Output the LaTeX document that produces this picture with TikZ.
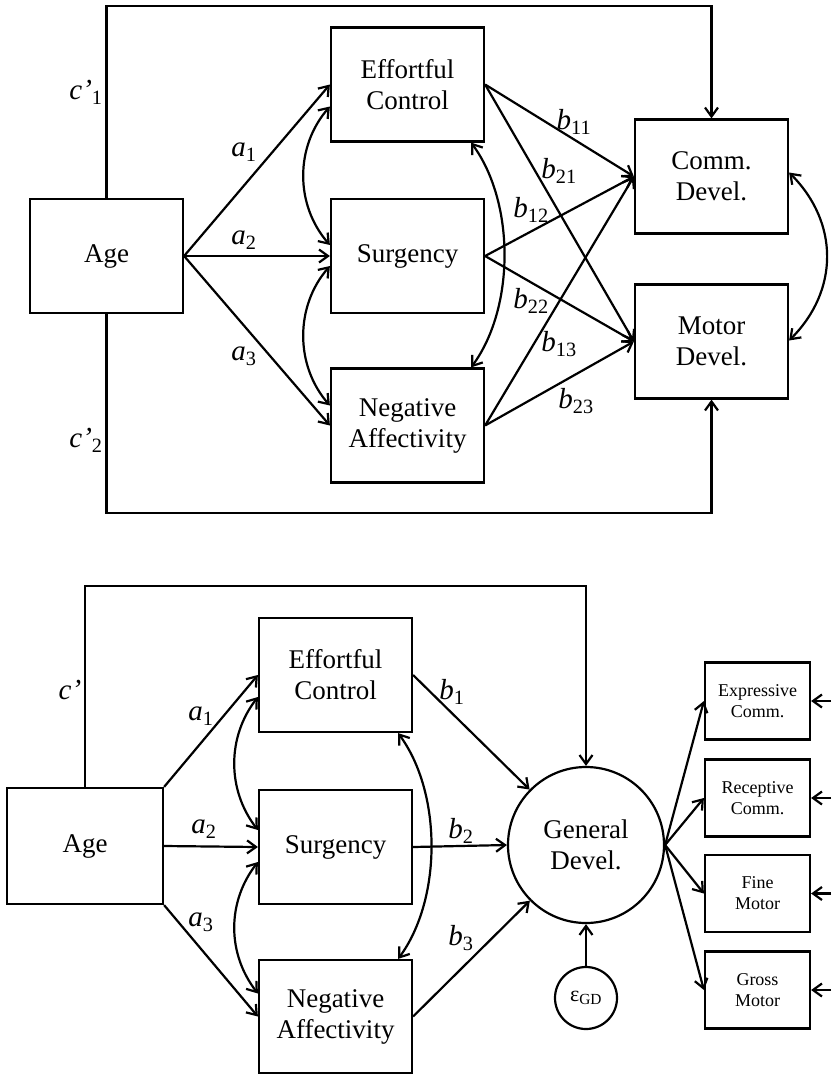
\documentclass[tikz,border=0pt]{standalone}
\usepackage{fontspec}
\setmainfont{Liberation Serif}
\usetikzlibrary{arrows.meta}
\tikzstyle{block} = [rectangle, draw, line width=2.2pt, minimum width=153pt,
    minimum height=114pt, align=center, font=\fontsize{27}{31}\selectfont]
\tikzstyle{indicator} = [rectangle, draw, line width=2.2pt, minimum width=105pt,
    minimum height=77pt, align=center, font=\fontsize{18}{21}\selectfont]
\tikzstyle{latent} = [circle, draw, line width=2.2pt, align=center, inner sep=0pt]
\tikzstyle{coef} = [inner sep=0pt, font=\fontsize{29}{32}\selectfont\itshape]
\newcommand{\pathlab}[2]{#1\textsubscript{\upshape #2}}

\begin{document}
\begin{tikzpicture}[x=1pt,y=-1pt,line width=2.2pt,
                    >={Straight Barb[length=9pt,width=13pt]}]
  \useasboundingbox (0,0) rectangle (831,1074);

  % top model
  \node[block] (age)   at (106.5,256)   {Age};
  \node[block] (ec)    at (407.5,84.5)  {Effortful\\Control};
  \node[block] (sur)   at (407.5,256)   {Surgency};
  \node[block] (na)    at (407.5,425.5) {Negative\\Affectivity};
  \node[block] (comm)  at (711.5,176.5) {Comm.\\Devel.};
  \node[block] (motor) at (711.5,341.5) {Motor\\Devel.};

  \coordinate (topc) at (106.5,6);
  \coordinate (botc) at (106.5,513);
  \draw[->] (age.north) -- (topc) -| (comm.north);
  \draw[->] (age.south) -- (botc) -| (motor.south);

  \draw[->] (age.east) -- (ec.west);
  \draw[->] (age.east) -- (sur.west);
  \draw[->] (age.east) -- (na.west);

  \draw[<->] ([yshift=-22pt]ec.west) .. controls +(-35,40) and +(-35,-40) .. ([yshift=11pt]sur.west);
  \draw[<->] ([yshift=-10pt]sur.west) .. controls +(-35,40) and +(-35,-40) .. ([yshift=20pt]na.west);
  \draw[<->] ([xshift=-14pt]ec.south east) .. controls +(44,60) and +(44,-60) .. ([xshift=-14pt]na.north east);
  \draw[<->] ([yshift=4pt]comm.east) .. controls +(50,50) and +(50,-50) .. ([yshift=1pt]motor.east);

  \draw[->] (ec.east)  -- (comm.west);
  \draw[->] (ec.east)  -- (motor.west);
  \draw[->] (sur.east) -- (comm.west);
  \draw[->] (sur.east) -- (motor.west);
  \draw[->] (na.east)  -- (comm.west);
  \draw[->] (na.east)  -- (motor.west);

  \node[coef] (c1)  at (86,92)   {\pathlab{c’}{1}};
  \node[coef] (c2)  at (86,440)  {\pathlab{c’}{2}};
  \node[coef] (a1)  at (244,152) {\pathlab{a}{1}};
  \node[coef] (a2)  at (244,240) {\pathlab{a}{2}};
  \node[coef] (a3)  at (244,356) {\pathlab{a}{3}};
  \node[coef] (b11) at (574,122) {\pathlab{b}{11}};
  \node[coef] (b21) at (559,171) {\pathlab{b}{21}};
  \node[coef] (b12) at (531,210) {\pathlab{b}{12}};
  \node[coef] (b22) at (531,301) {\pathlab{b}{22}};
  \node[coef] (b13) at (559,344) {\pathlab{b}{13}};
  \node[coef] (b23) at (576,401) {\pathlab{b}{23}};

  % bottom model
  \node[block, minimum width=156pt, minimum height=116pt] (age2) at (85,846) {Age};
  \node[block] (ec2)  at (335.5,675)    {Effortful\\Control};
  \node[block] (sur2) at (335.5,847)    {Surgency};
  \node[block, minimum height=113pt] (na2) at (335.5,1016.5) {Negative\\Affectivity};
  \node[latent, minimum size=156pt, font=\fontsize{27}{31}\selectfont] (gd) at (586,845) {General\\Devel.};
  \node[latent, minimum size=62pt, font=\fontsize{22}{26}\selectfont] (eps) at (586,998) {ε\textsubscript{GD}};

  \node[indicator] (expr)  at (757.5,701)   {Expressive\\Comm.};
  \node[indicator] (recp)  at (757.5,798)   {Receptive\\Comm.};
  \node[indicator] (fine)  at (757.5,893.5) {Fine\\Motor};
  \node[indicator] (gross) at (757.5,990)   {Gross\\Motor};

  \coordinate (topc2) at (85,586);
  \draw[->] (age2.north) -- (topc2) -| (gd.north);

  \draw[->] (age2.north east) -- (ec2.west);
  \draw[->] (age2.east) -- (sur2.west);
  \draw[->] (age2.south east) -- (na2.west);

  \draw[<->] ([yshift=-22pt]ec2.west) .. controls +(-31,40) and +(-31,-40) .. ([yshift=17pt]sur2.west);
  \draw[<->] ([yshift=-15pt]sur2.west) .. controls +(-31,40) and +(-31,-40) .. ([yshift=23pt]na2.west);
  \draw[<->] ([xshift=-15pt]ec2.south east) .. controls +(44,60) and +(44,-60) .. ([xshift=-15pt]na2.north east);

  \draw[->] (ec2.east)  -- (gd);
  \draw[->] (sur2.east) -- (gd.west);
  \draw[->] (na2.east)  -- (gd);
  \draw[->] (eps) -- (gd);

  \draw[->] (gd.east) -- (expr.west);
  \draw[->] (gd.east) -- (recp.west);
  \draw[->] (gd.east) -- (fine.west);
  \draw[->] (gd.east) -- (gross.west);

  \coordinate (eexpr)  at (831,701);
  \coordinate (erecp)  at (831,798);
  \coordinate (efine)  at (831,893.5);
  \coordinate (egross) at (831,990);
  \draw[->] (eexpr)  -- (expr.east);
  \draw[->] (erecp)  -- (recp.east);
  \draw[->] (efine)  -- (fine.east);
  \draw[->] (egross) -- (gross.east);

  \node[coef] (c3) at (70,690)  {c’};
  \node[coef] (d1) at (201,716) {\pathlab{a}{1}};
  \node[coef] (d2) at (204,829) {\pathlab{a}{2}};
  \node[coef] (d3) at (201,922) {\pathlab{a}{3}};
  \node[coef] (e1) at (452,692) {\pathlab{b}{1}};
  \node[coef] (e2) at (461,831) {\pathlab{b}{2}};
  \node[coef] (e3) at (461,938) {\pathlab{b}{3}};
\end{tikzpicture}
\end{document}
